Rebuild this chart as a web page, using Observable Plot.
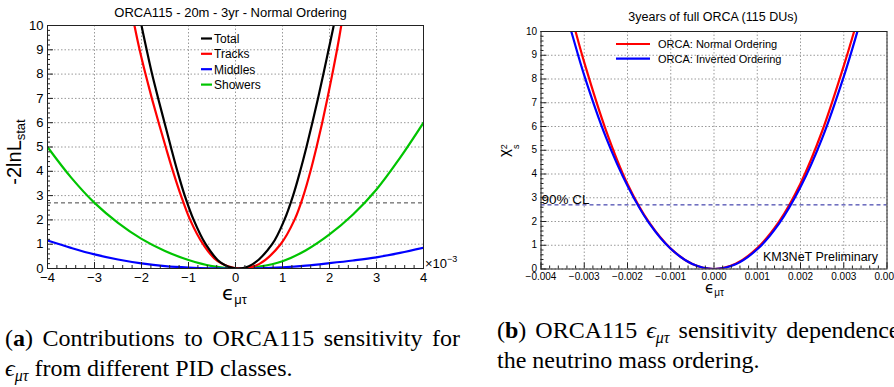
<!DOCTYPE html>
<html><head><meta charset="utf-8">
<script src="https://cdn.jsdelivr.net/npm/d3@7"></script>
<script src="https://cdn.jsdelivr.net/npm/@observablehq/plot@0.6"></script>
<style>
html,body{margin:0;padding:0;background:#fff;}
body{width:894px;height:387px;position:relative;overflow:hidden;font-family:"Liberation Sans",Arial,sans-serif;}
#pa{position:absolute;left:0;top:0;width:440px;height:305px;}
#pb{position:absolute;left:440px;top:0;width:454px;height:300px;}
.cap{position:absolute;font-family:"Liberation Serif","Times New Roman",serif;font-size:24px;line-height:30px;color:#000;}
.sub{font-style:italic;font-size:16px;position:relative;top:5px;}
</style></head><body>
<div id="pa"></div><div id="pb"></div>
<div class="cap" style="left:5px;top:323px;width:455px;text-align:justify;text-align-last:justify;">(<b>a</b>) Contributions to ORCA115 sensitivity for</div>
<div class="cap" style="left:5px;top:353px;white-space:nowrap;"><i>ϵ</i><span class="sub">μτ</span> from different PID classes.</div>
<div class="cap" style="left:497px;top:315px;white-space:nowrap;word-spacing:3px;">(<b>b</b>) ORCA115 <i>ϵ</i><span class="sub">μτ</span> sensitivity dependence</div>
<div class="cap" style="left:497px;top:345px;white-space:nowrap;">the neutrino mass ordering.</div>
<script>
// ---------- shared ticks ----------
const yTicks = [0,1,2,3,4,5,6,7,8,9,10];
const clLevel = 2.7;

// ---------- panel (a): ORCA115 - 20m - 3yr - Normal Ordering (x in units of 1e-3) ----------
const xTicksA = [-4,-3,-2,-1,0,1,2,3,4];
const seriesA = ["Total","Tracks","Middles","Showers"];
const colorsA = ["#000000","#ff0000","#0000ff","#00c400"];

const totalX = [-2.1,-2.0,-1.89,-1.775,-1.645,-1.51,-1.375,-1.235,-1.08,-0.89,-0.635,-0.32,0.03,0.36,0.78,1.04,1.225,1.375,1.51,1.635,1.755,1.87,1.98,2.09,2.19];
const totalY = [11,10,9,8,7,6,5,4,3,2,1,0.25,0,0.17,1,2,3,4,5,6,7,8,9,10,11];

const tracksX = [-2.25,-2.15,-2.04,-1.915,-1.78,-1.635,-1.485,-1.33,-1.16,-0.965,-0.69,-0.38,0.08,0.5,0.96,1.255,1.445,1.595,1.725,1.845,1.955,2.06,2.16,2.25,2.33];
const tracksY = [11,10,9,8,7,6,5,4,3,2,1,0.3,0,0.18,1,2,3,4,5,6,7,8,9,10,11];

const gridA = [-4,-3.5,-3,-2.5,-2,-1.5,-1,-0.5,0,0.5,1,1.5,2,2.5,3,3.5,4];
const middlesY = [1.15,0.85,0.58,0.37,0.21,0.1,0.04,0.01,0,0.01,0.05,0.12,0.22,0.33,0.46,0.64,0.85];
const showersY = [5.0,3.75,2.7,1.88,1.22,0.72,0.35,0.1,0,0.08,0.3,0.75,1.4,2.22,3.25,4.55,6.0];

// ---------- panel (b): 3years of full ORCA (115 DUs) ----------
const xTicksB = [-0.004,-0.003,-0.002,-0.001,0,0.001,0.002,0.003,0.004];
const seriesB = ["ORCA: Normal Ordering","ORCA: Inverted Ordering"];
const colorsB = ["#ff0000","#0000ff"];
const noX = [-0.0034,-0.0032,-0.003,-0.0025,-0.002,-0.0015,-0.001,-0.0005,0,0.0005,0.001,0.0015,0.002,0.0025,0.003,0.00324,0.0034];
const noY = [11.4,10.0,8.7,5.85,3.58,1.96,0.86,0.21,0,0.22,0.88,1.98,3.6,5.8,8.55,10.0,11.0];
const ioX = [-0.0035,-0.0033,-0.003,-0.0025,-0.002,-0.0015,-0.001,-0.0005,0,0.0005,0.001,0.0015,0.002,0.0025,0.003,0.0033,0.0035];
const ioY = [11.2,10.0,8.15,5.55,3.5,1.93,0.85,0.21,0,0.2,0.83,1.9,3.45,5.5,8.1,9.9,11.2];

const FONT = "Liberation Sans, Arial, sans-serif";

function minorTicks(major, n) {
  const out = [];
  for (let i = 0; i < major.length - 1; i++) {
    const a = major[i], b = major[i+1];
    for (let k = 1; k < n; k++) out.push(a + (b - a) * k / n);
  }
  return out;
}
function txt(sel, x, y, size, anchor) {
  return sel.append("text").attr("x", x).attr("y", y).attr("font-family", FONT)
    .attr("font-size", size).attr("text-anchor", anchor || "start").attr("fill", "#000");
}

// ---------- build panel (a) ----------
const WA = 440, HA = 305, mlA = 47, mrA = 17, mtA = 25, mbA = 37;
const pwA = WA - mlA - mrA, phA = HA - mtA - mbA;
const lineA = (xs, ys, c) => Plot.line(xs, {x: xs, y: ys, stroke: c, strokeWidth: 2.2, curve: "catmull-rom", clip: true});
const plotA = Plot.plot({
  width: WA, height: HA, marginLeft: mlA, marginRight: mrA, marginTop: mtA, marginBottom: mbA,
  style: {background: "transparent", fontFamily: FONT, fontSize: "13px", color: "#000", overflow: "visible"},
  x: {domain: [-4, 4], label: null},
  y: {domain: [0, 10], label: null},
  marks: [
    Plot.gridX(xTicksA, {stroke: "#999", strokeOpacity: 1, strokeDasharray: "1.5,2"}),
    Plot.gridY(yTicks, {stroke: "#999", strokeOpacity: 1, strokeDasharray: "1.5,2"}),
    Plot.ruleY([clLevel], {stroke: "#444", strokeDasharray: "4,3"}),
    lineA(gridA, showersY, colorsA[3]),
    lineA(gridA, middlesY, colorsA[2]),
    lineA(tracksX, tracksY, colorsA[1]),
    lineA(totalX, totalY, colorsA[0]),
    Plot.ruleX(xTicksA, {stroke: "#222", insetTop: phA - 6}),
    Plot.ruleX(minorTicks(xTicksA, 5), {stroke: "#222", insetTop: phA - 3}),
    Plot.ruleY(yTicks, {stroke: "#222", insetRight: pwA - 6}),
    Plot.ruleY(minorTicks(yTicks, 5), {stroke: "#222", insetRight: pwA - 3}),
    Plot.frame({stroke: "#222"}),
    Plot.axisX(xTicksA, {tickSize: 0, tickPadding: 4.5, tickFormat: d3.format("d"), label: null, fontSize: 13}),
    Plot.axisY(yTicks, {tickSize: 0, tickPadding: 4, tickFormat: d3.format("d"), label: null, fontSize: 13})
  ]
});
document.getElementById("pa").appendChild(plotA);
const sa = d3.select(plotA);
txt(sa, 230.5, 16.5, 13, "middle").text("ORCA115 - 20m - 3yr - Normal Ordering");
const legYA = [38.5, 53.8, 69.2, 84.6];
seriesA.forEach((s, i) => {
  sa.append("line").attr("x1", 201).attr("x2", 212).attr("y1", legYA[i]).attr("y2", legYA[i])
    .attr("stroke", colorsA[i]).attr("stroke-width", 2.2);
  txt(sa, 214, legYA[i] + 4.3, 12).text(s);
});
const ylA = sa.append("text").attr("transform", "translate(21,152) rotate(-90)")
  .attr("text-anchor", "middle").attr("font-family", FONT).attr("font-size", 20).attr("fill", "#000");
ylA.append("tspan").text("-2lnL");
ylA.append("tspan").attr("font-size", 13).attr("dy", 4).text("stat");
const xlA = txt(sa, 222, 299.5, 20).attr("font-family", "DejaVu Sans, " + FONT);
xlA.append("tspan").text("ϵ");
xlA.append("tspan").attr("font-size", 13).attr("dy", 4).attr("font-family", FONT).text("μτ");
const expA = txt(sa, 425, 268, 13);
expA.append("tspan").text("×10");
expA.append("tspan").attr("font-size", 9).attr("dy", -6).text("−3");

// ---------- build panel (b) ----------
const WB = 454, HB = 300, mlB = 100.5, mrB = 7.5, mtB = 31, mbB = 31.5;
const pwB = WB - mlB - mrB, phB = HB - mtB - mbB;
const lineB = (xs, ys, c) => Plot.line(xs, {x: xs, y: ys, stroke: c, strokeWidth: 2.2, curve: "catmull-rom", clip: true});
const plotB = Plot.plot({
  width: WB, height: HB, marginLeft: mlB, marginRight: mrB, marginTop: mtB, marginBottom: mbB,
  style: {background: "transparent", fontFamily: FONT, fontSize: "10px", color: "#000", overflow: "visible"},
  x: {domain: [-0.004, 0.004], label: null},
  y: {domain: [0, 10], label: null},
  marks: [
    Plot.gridX(xTicksB, {stroke: "#999", strokeOpacity: 1, strokeDasharray: "1.5,2"}),
    Plot.gridY(yTicks, {stroke: "#999", strokeOpacity: 1, strokeDasharray: "1.5,2"}),
    lineB(noX, noY, colorsB[0]),
    lineB(ioX, ioY, colorsB[1]),
    Plot.ruleY([clLevel], {stroke: "#1a1a9a", strokeDasharray: "4,3"}),
    Plot.ruleX(xTicksB, {stroke: "#222", insetTop: phB - 6}),
    Plot.ruleX(minorTicks(xTicksB, 5), {stroke: "#222", insetTop: phB - 3}),
    Plot.ruleY(yTicks, {stroke: "#222", insetRight: pwB - 6}),
    Plot.ruleY(minorTicks(yTicks, 5), {stroke: "#222", insetRight: pwB - 3}),
    Plot.frame({stroke: "#222"}),
    Plot.axisX(xTicksB, {tickSize: 0, tickPadding: 4, tickFormat: d3.format(".3f"), label: null, fontSize: 10}),
    Plot.axisY(yTicks, {tickSize: 0, tickPadding: 4, tickFormat: d3.format("d"), label: null, fontSize: 10})
  ]
});
document.getElementById("pb").appendChild(plotB);
const sb = d3.select(plotB);
txt(sb, 273, 21, 12.5, "middle").text("3years of full ORCA (115 DUs)");
const legYB = [44, 58.7];
seriesB.forEach((s, i) => {
  sb.append("line").attr("x1", 176).attr("x2", 210).attr("y1", legYB[i]).attr("y2", legYB[i])
    .attr("stroke", colorsB[i]).attr("stroke-width", 2.2);
  txt(sb, 218, legYB[i] + 4, 11).text(s);
});
txt(sb, 101.5, 204, 13.5).text("90% CL");
txt(sb, 438, 260.5, 12.5, "end").text("KM3NeT Preliminary");
const ylB = sb.append("text").attr("transform", "translate(69,157) rotate(-90)")
  .attr("text-anchor", "start").attr("font-family", FONT).attr("font-size", 15).attr("fill", "#000");
ylB.append("tspan").text("χ");
ylB.append("tspan").attr("font-size", 9).attr("dy", -2).text("2");
ylB.append("tspan").attr("font-size", 9).attr("dx", -5).attr("dy", 12).text("s");
const xlB = txt(sb, 265, 292.5, 15).attr("font-family", "DejaVu Sans, " + FONT);
xlB.append("tspan").text("ϵ");
xlB.append("tspan").attr("font-size", 10).attr("dy", 3).attr("font-family", FONT).text("μτ");
</script>
</body></html>
